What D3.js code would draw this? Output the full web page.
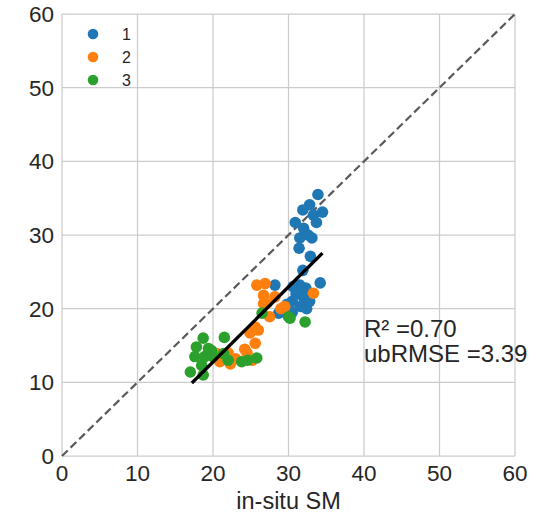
<!DOCTYPE html>
<meta charset="utf-8">
<style>

body {
  margin: 0;
  background: #fff;
}

text {
  font-family: "Liberation Sans", Arial, sans-serif;
  fill: #262626;
}

.grid line {
  stroke: #cccccc;
  stroke-width: 1.25px;
}

.oneone {
  fill: none;
  stroke: #5a5a5a;
  stroke-width: 2.2px;
  stroke-dasharray: 8, 4;
}

.fit {
  fill: none;
  stroke: #000;
  stroke-width: 3.3px;
}

</style>
<body>
<script src="https://d3js.org/d3.v7.min.js"></script>
<script>

var width = 536,
    height = 516,
    margin = {top: 14, right: 21, bottom: 60, left: 62};

// group labels and colours
var groups = ["1", "2", "3"];
var colors = ["#1f77b4", "#ff7f0e", "#2ca02c"];

// in-situ SM (x) vs estimated SM (y), per group
var group1 = [
  [33.9, 35.5], [32.8, 34.1], [31.9, 33.4], [34.5, 33.1], [33.3, 32.7],
  [30.9, 31.7], [33.7, 31.7], [32.0, 30.9], [32.6, 30.0], [31.5, 29.6],
  [33.1, 29.6], [31.4, 28.2], [32.9, 27.1], [31.9, 25.2], [34.2, 23.5],
  [30.6, 23.0], [31.5, 23.2], [32.3, 22.8], [31.0, 22.0], [32.0, 21.5],
  [32.8, 21.0], [30.5, 21.0], [31.6, 20.3], [29.8, 20.6], [30.5, 19.5],
  [28.2, 23.2], [28.7, 19.4], [32.4, 20.0], [31.2, 22.6]
];
var group2 = [
  [25.8, 23.2], [26.9, 23.4], [26.7, 21.8], [28.2, 21.6], [26.7, 20.7],
  [29.5, 20.3], [27.5, 18.9], [25.6, 17.5], [33.3, 22.1], [26.0, 17.1],
  [24.9, 16.7], [25.6, 15.3], [22.0, 14.0], [21.1, 13.0], [24.5, 14.0],
  [20.5, 13.9], [20.9, 12.8], [23.0, 13.2], [22.3, 12.5], [25.2, 13.0],
  [27.1, 20.7], [29.0, 20.0], [24.2, 14.5]
];
var group3 = [
  [18.7, 16.0], [21.5, 16.1], [17.8, 14.8], [19.4, 14.6], [17.6, 13.5],
  [18.9, 13.5], [21.4, 13.9], [22.0, 13.0], [18.5, 12.3], [17.0, 11.4],
  [18.7, 11.0], [23.8, 12.8], [24.6, 13.0], [25.8, 13.3], [26.5, 19.4],
  [30.0, 18.9], [32.2, 18.2], [30.2, 18.7], [20.0, 13.5], [19.8, 14.3]
];

// linear fit
var fitSlope = 1.02,
    fitIntercept = -7.64,
    fitX = [17.2, 34.5];

var ticks = [0, 10, 20, 30, 40, 50, 60];
var stats = ["R\u00b2 =0.70", "ubRMSE =3.39"];

var x = d3.scaleLinear().domain([0, 60]).range([margin.left, width - margin.right]);
var y = d3.scaleLinear().domain([0, 60]).range([height - margin.bottom, margin.top]);

var svg = d3.select("body").append("svg")
    .attr("width", width)
    .attr("height", height)
    .style("display", "block");

var grid = svg.append("g").attr("class", "grid");

grid.selectAll(".vx")
    .data(ticks).enter()
    .append("line")
    .attr("x1", d => x(d)).attr("x2", d => x(d))
    .attr("y1", y(0)).attr("y2", y(60));

grid.selectAll(".hy")
    .data(ticks).enter()
    .append("line")
    .attr("x1", x(0)).attr("x2", x(60))
    .attr("y1", d => y(d)).attr("y2", d => y(d));

// tick labels
svg.selectAll(".xt")
    .data(ticks).enter()
    .append("text")
    .attr("x", d => x(d))
    .attr("y", y(0) + 25)
    .attr("text-anchor", "middle")
    .style("font-size", "22.5px")
    .text(d => d);

svg.selectAll(".yt")
    .data(ticks).enter()
    .append("text")
    .attr("x", x(0) - 8)
    .attr("y", d => y(d))
    .attr("dy", "0.36em")
    .attr("text-anchor", "end")
    .style("font-size", "22.5px")
    .text(d => d);

svg.append("text")
    .attr("x", (x(0) + x(60)) / 2)
    .attr("y", 509)
    .attr("text-anchor", "middle")
    .style("font-size", "23.5px")
    .text("in-situ SM");

// 1:1 line
svg.append("line")
    .attr("class", "oneone")
    .attr("x1", x(0)).attr("y1", y(0))
    .attr("x2", x(60)).attr("y2", y(60));

// points
[group1, group2, group3].forEach(function(pts, i) {
  svg.append("g").selectAll("circle")
     .data(pts).enter()
     .append("circle")
     .attr("cx", d => x(d[0]))
     .attr("cy", d => y(d[1]))
     .attr("r", 5.8)
     .attr("fill", colors[i]);
});

// fit line
svg.append("line")
    .attr("class", "fit")
    .attr("x1", x(fitX[0])).attr("y1", y(fitSlope * fitX[0] + fitIntercept))
    .attr("x2", x(fitX[1])).attr("y2", y(fitSlope * fitX[1] + fitIntercept));

// stats text
svg.selectAll(".stat")
    .data(stats).enter()
    .append("text")
    .attr("x", x(40))
    .attr("y", (d, i) => 337 + i * 25)
    .style("font-size", "24px")
    .text(d => d);

// legend
var legend = svg.selectAll(".legend")
    .data(groups).enter()
    .append("g")
    .attr("transform", (d, i) => "translate(93," + (34 + i * 23) + ")");

legend.append("circle")
    .attr("r", 5.3)
    .attr("fill", (d, i) => colors[i]);

legend.append("text")
    .attr("x", 29)
    .attr("dy", "0.36em")
    .style("font-size", "16px")
    .text(d => d);

</script>
</body>
